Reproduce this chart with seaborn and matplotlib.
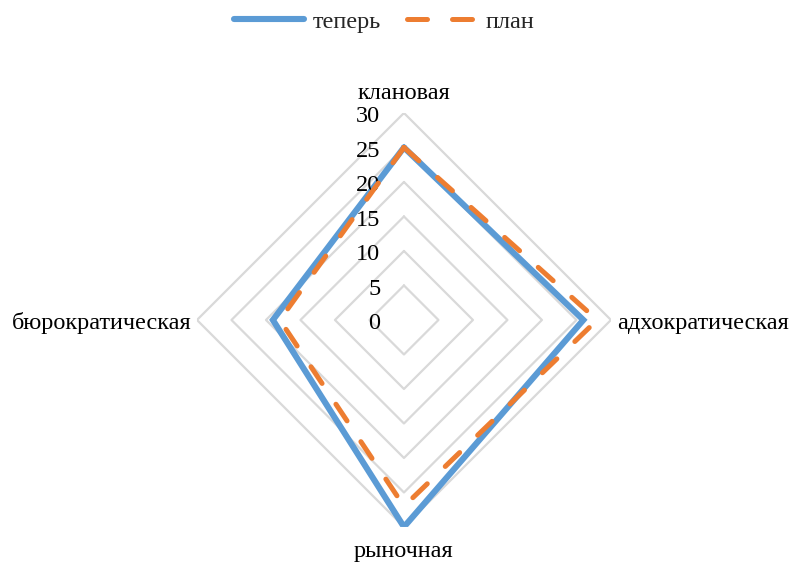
import numpy as np
import pandas as pd
import matplotlib
matplotlib.use("Agg")
import matplotlib.pyplot as plt
from matplotlib.lines import Line2D
import seaborn as sns

categories = ["клановая", "адхократическая", "рыночная", "бюрократическая"]
now_values = [25, 26, 30, 19]
plan_values = [25, 28, 27, 18]
series_names = ["теперь", "план"]
ring_ticks = [0, 5, 10, 15, 20, 25, 30]

sns.set_theme(style="white")
plt.rcParams["font.family"] = ["Liberation Serif", "DejaVu Serif"]

BLUE = "#5B9BD5"
ORANGE = "#ED7D31"
GRID = "#D9D9D9"
FS = 17.5
DASH = (4, 5)

n = len(categories)
angles = np.arange(n) * 2 * np.pi / n

# long-format table; each series is closed back onto its first category
rows = []
for name, vals in zip(series_names, [now_values, plan_values]):
    for k in range(n + 1):
        i = k % n
        theta = angles[i] if k < n else 2 * np.pi
        rows.append({"series": name, "theta": theta, "value": vals[i]})
df = pd.DataFrame(rows)

fig = plt.figure(figsize=(7.92, 5.62), dpi=100)
ax = fig.add_axes([0.2487, 0.0623, 0.5227, 0.7367], projection="polar")
ax.set_theta_offset(np.pi / 2)
ax.set_theta_direction(-1)
ax.set_ylim(0, 30)
ax.grid(False)
ax.spines["polar"].set_visible(False)
ax.set_xticks([])
ax.set_yticks([])
ax.set_facecolor("none")

# polygonal grid rings
ring_theta = np.append(angles, angles[0])
for r in ring_ticks[1:]:
    ax.plot(ring_theta, [r] * len(ring_theta), color=GRID, lw=1.6, zorder=1)

sns.lineplot(
    data=df, x="theta", y="value", hue="series", style="series",
    palette={"теперь": BLUE, "план": ORANGE},
    dashes={"теперь": "", "план": DASH},
    sort=False, estimator=None, units="series", ax=ax, legend=False, zorder=3,
)
lines = ax.get_lines()[-2:]
lines[0].set_linewidth(4.4)
lines[0].set_solid_capstyle("round")
lines[0].set_solid_joinstyle("miter")
lines[1].set_linewidth(3.6)
lines[1].set_dash_capstyle("round")
lines[1].set_zorder(4)
ax.set_xlabel("")
ax.set_ylabel("")

# radial tick labels along the top axis
for r in ring_ticks:
    ax.annotate(str(r), xy=(0, r), xytext=(-17, -6.5), textcoords="offset points",
                ha="right", va="baseline", fontsize=FS, color="#000000")

# category labels
label_pos = [
    dict(xytext=(0, 10), ha="center", va="baseline"),
    dict(xytext=(4.5, -6.5), ha="left", va="baseline"),
    dict(xytext=(0, -21.5), ha="center", va="baseline"),
    dict(xytext=(-4, -6.5), ha="right", va="baseline"),
]
for ang, cat, kw in zip(angles, categories, label_pos):
    ax.annotate(cat, xy=(ang, 30), textcoords="offset points",
                fontsize=FS, color="#000000", annotation_clip=False, **kw)

handles = [
    Line2D([], [], color=BLUE, lw=4.4, solid_capstyle="round"),
    Line2D([], [], color=ORANGE, lw=3.6, dashes=DASH, dash_capstyle="round"),
]
fig.legend(handles, series_names, loc="upper center", bbox_to_anchor=(0.485, 1.02),
           ncol=2, frameon=False, fontsize=FS, handlelength=2.9,
           columnspacing=1.05, handletextpad=0.35)

fig.savefig("out.png", dpi=100, facecolor="white")
